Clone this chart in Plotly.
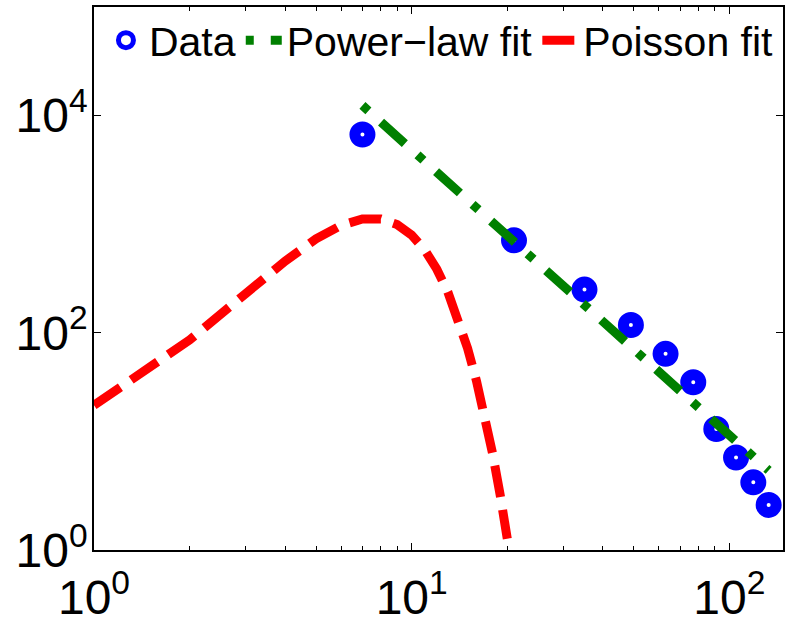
import plotly.graph_objects as go

# Data points
data_x = [7, 21, 35, 49, 63, 77, 91, 105, 119, 133]
data_y = [6700, 710, 250, 118, 64, 35, 13, 7.1, 4.2, 2.6]

# Power-law fit endpoints (straight line on log-log axes)
pl_x = [7, 133]
pl_y = [12400, 5.4]

# Poisson fit values at integer k
po_x = list(range(1, 21))
po_y = [21.5, 86, 229, 458, 733, 977, 1117, 1117, 993, 794,
        578, 385, 237, 135, 72, 36, 17, 7.6, 3.2, 1.27]

x_tickvals = [1, 10, 100]
x_ticktext = ["10<sup>0</sup>", "10<sup>1</sup>", "10<sup>2</sup>"]
y_tickvals = [1, 100, 10000]
y_ticktext = ["10<sup>0</sup>", "10<sup>2</sup>", "10<sup>4</sup>"]
x_minor = [2, 3, 4, 5, 6, 7, 8, 9, 20, 30, 40, 50, 60, 70, 80, 90]

fig = go.Figure()
fig.add_trace(go.Scatter(
    x=data_x, y=data_y, mode="markers", name="Data",
    marker=dict(symbol="circle-open", size=15, color="#0000ff",
                line=dict(width=11, color="#0000ff")),
))
fig.add_trace(go.Scatter(
    x=pl_x, y=pl_y, mode="lines", name="Power\u2212law fit",
    line=dict(color="#008000", width=9, dash="8px,17px,32px,17px"),
))
fig.add_trace(go.Scatter(
    x=po_x, y=po_y, mode="lines", name="Poisson fit",
    line=dict(color="#ff0000", width=9, dash="32px,13px"),
))

fig.update_layout(
    width=786, height=624,
    margin=dict(l=94, r=3, t=7, b=74, autoexpand=False),
    paper_bgcolor="white", plot_bgcolor="white",
    font=dict(family="Liberation Sans, Arial, sans-serif", color="black"),
    showlegend=True,
    legend=dict(orientation="h", x=0.013, y=1.0, xanchor="left", yanchor="top",
                bgcolor="rgba(0,0,0,0)", font=dict(size=41),
                itemwidth=36, tracegroupgap=0),
)
fig.update_xaxes(
    type="log", range=[0, 2.169], automargin=False,
    tickvals=x_tickvals, ticktext=x_ticktext,
    tickfont=dict(size=48), ticklabelstandoff=5,
    ticks="inside", ticklen=7, tickwidth=1, tickcolor="black",
    showline=True, linecolor="black", linewidth=1.5, mirror="ticks",
    showgrid=False, zeroline=False,
    minor=dict(tickvals=x_minor, ticks="inside", ticklen=4, tickcolor="black", showgrid=False),
)
fig.update_yaxes(
    type="log", range=[0, 5], automargin=False,
    tickvals=y_tickvals, ticktext=y_ticktext,
    tickfont=dict(size=48), ticklabelstandoff=-5,
    ticks="inside", ticklen=7, tickwidth=1, tickcolor="black",
    showline=True, linecolor="black", linewidth=1.5, mirror="ticks",
    showgrid=False, zeroline=False,
)

fig.write_html("out.html", config={"displayModeBar": False},
               post_script="document.body.style.margin='0';")
